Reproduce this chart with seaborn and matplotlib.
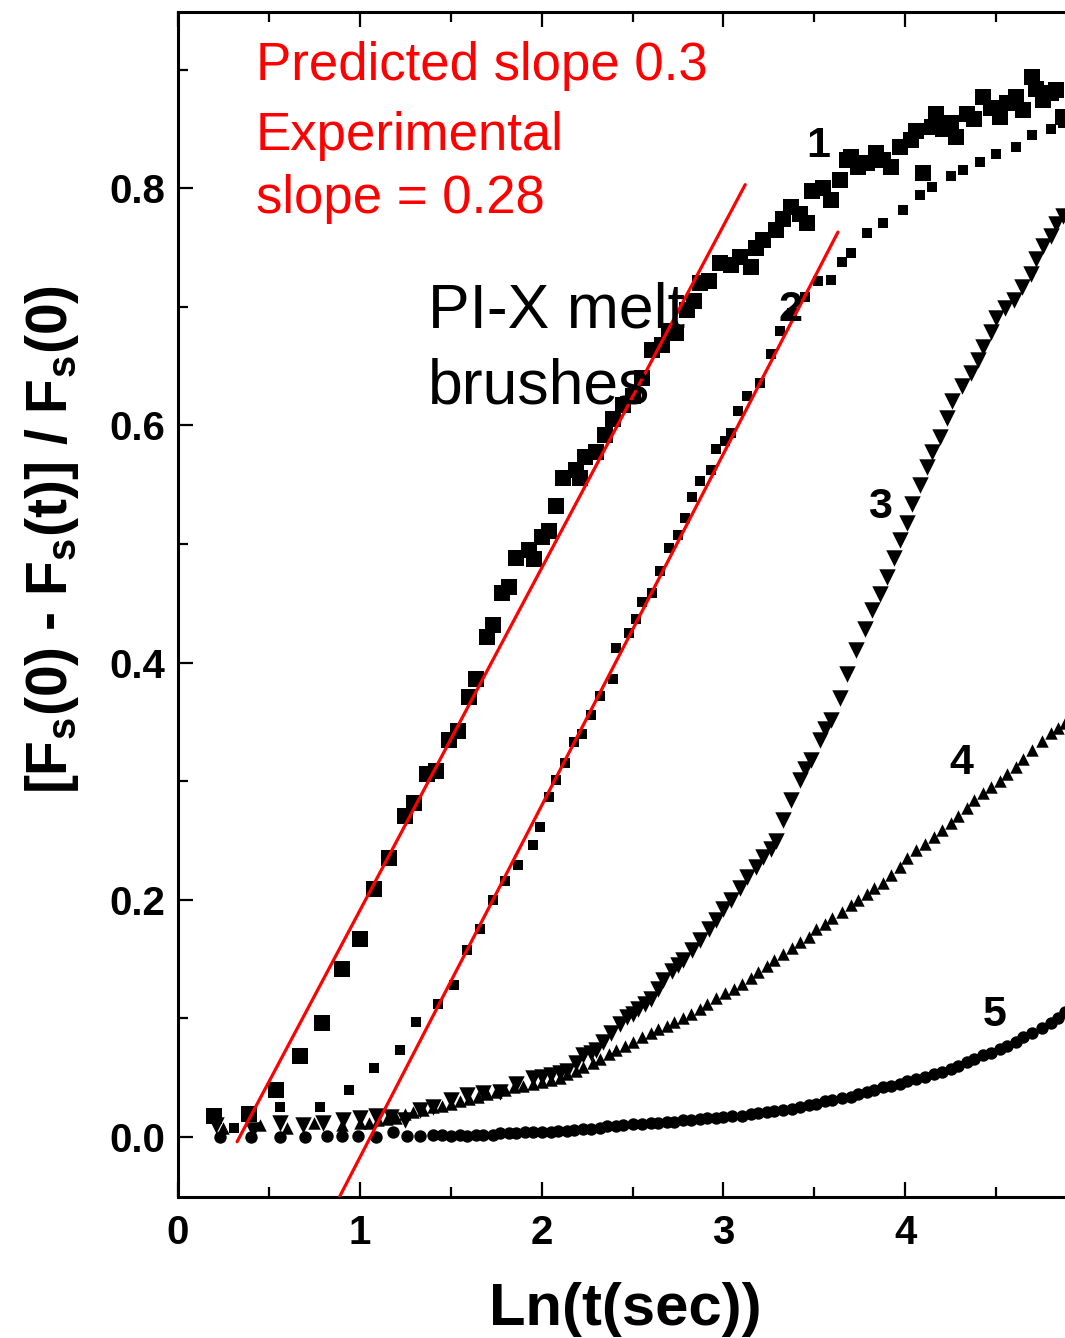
import numpy as np
import pandas as pd
import matplotlib
matplotlib.use('Agg')
import matplotlib.pyplot as plt
import seaborn as sns
from matplotlib.ticker import MultipleLocator

# curve 1 (large squares)
c1_x = [0.20, 0.39, 0.54, 0.67, 0.79, 0.90, 1.00, 1.08, 1.16, 1.25, 1.30, 1.37, 1.42, 1.49, 1.54,
        1.60, 1.64, 1.70, 1.73, 1.78, 1.82, 1.86, 1.93, 1.96, 2.00, 2.04, 2.08, 2.12, 2.19, 2.21,
        2.24, 2.30, 2.35, 2.39, 2.45, 2.50, 2.55, 2.61, 2.66, 2.70, 2.74, 2.80, 2.84, 2.87, 2.92,
        2.98, 3.04, 3.09, 3.15, 3.18, 3.22, 3.29, 3.33, 3.37, 3.42, 3.46, 3.49, 3.55, 3.59, 3.64,
        3.68, 3.70, 3.74, 3.79, 3.84, 3.88, 3.92, 3.97, 4.03, 4.06, 4.10, 4.15, 4.17, 4.21, 4.25,
        4.28, 4.34, 4.38, 4.43, 4.47, 4.52, 4.56, 4.61, 4.65, 4.70, 4.72, 4.76, 4.80, 4.83, 4.87]
c1_y = [0.018, 0.019, 0.040, 0.068, 0.096, 0.142, 0.167, 0.209, 0.235, 0.271, 0.282, 0.306, 0.309,
        0.335, 0.342, 0.371, 0.386, 0.422, 0.432, 0.459, 0.464, 0.488, 0.495, 0.487, 0.506, 0.511,
        0.532, 0.556, 0.562, 0.556, 0.573, 0.578, 0.592, 0.605, 0.617, 0.625, 0.640, 0.664, 0.668,
        0.680, 0.678, 0.697, 0.705, 0.720, 0.722, 0.737, 0.735, 0.742, 0.734, 0.750, 0.756, 0.765,
        0.774, 0.784, 0.778, 0.771, 0.798, 0.800, 0.790, 0.807, 0.824, 0.826, 0.818, 0.821, 0.830,
        0.824, 0.818, 0.835, 0.841, 0.848, 0.813, 0.852, 0.863, 0.850, 0.855, 0.843, 0.863, 0.858,
        0.877, 0.868, 0.860, 0.872, 0.877, 0.866, 0.894, 0.884, 0.874, 0.880, 0.883, 0.860]

# curve 2 (small squares)
c2_x = [0.31, 0.56, 0.78, 0.94, 1.08, 1.22, 1.31, 1.43, 1.52, 1.59, 1.66, 1.73, 1.80, 1.87, 1.95,
        1.99, 2.04, 2.08, 2.13, 2.18, 2.22, 2.27, 2.32, 2.39, 2.41, 2.48, 2.52, 2.55, 2.61, 2.65,
        2.70, 2.75, 2.79, 2.83, 2.87, 2.93, 2.96, 3.01, 3.04, 3.08, 3.13, 3.20, 3.26, 3.31, 3.38,
        3.45, 3.52, 3.59, 3.65, 3.70, 3.79, 3.88, 3.99, 4.08, 4.15, 4.25, 4.32, 4.41, 4.50, 4.61,
        4.70, 4.80, 4.87]
c2_y = [0.008, 0.025, 0.025, 0.040, 0.058, 0.073, 0.097, 0.112, 0.128, 0.158, 0.175, 0.200, 0.216,
        0.229, 0.246, 0.261, 0.287, 0.301, 0.315, 0.333, 0.340, 0.356, 0.372, 0.386, 0.412, 0.425,
        0.437, 0.451, 0.459, 0.477, 0.497, 0.508, 0.522, 0.540, 0.553, 0.562, 0.580, 0.587, 0.594,
        0.612, 0.625, 0.636, 0.660, 0.680, 0.695, 0.708, 0.722, 0.723, 0.738, 0.745, 0.762, 0.771,
        0.782, 0.794, 0.801, 0.810, 0.815, 0.822, 0.829, 0.835, 0.845, 0.850, 0.855]

# curve 3 (down triangles)
c3_x = [0.21, 0.41, 0.56, 0.69, 0.80, 0.91, 1.00, 1.09, 1.17, 1.25, 1.33, 1.40, 1.50, 1.59, 1.68,
        1.77, 1.86, 1.95, 2.00, 2.05, 2.10, 2.14, 2.19, 2.23, 2.27, 2.30, 2.34, 2.38, 2.43, 2.47,
        2.50, 2.53, 2.57, 2.60, 2.64, 2.67, 2.72, 2.75, 2.78, 2.83, 2.87, 2.92, 2.96, 3.00, 3.04,
        3.09, 3.13, 3.18, 3.22, 3.26, 3.29, 3.33, 3.37, 3.42, 3.45, 3.48, 3.53, 3.56, 3.59, 3.64,
        3.68, 3.73, 3.78, 3.82, 3.86, 3.90, 3.94, 3.97, 4.01, 4.04, 4.08, 4.12, 4.15, 4.19, 4.23,
        4.26, 4.31, 4.36, 4.40, 4.43, 4.47, 4.50, 4.55, 4.60, 4.64, 4.69, 4.72, 4.76, 4.80, 4.83,
        4.87]
c3_y = [0.010, 0.006, 0.012, 0.010, 0.012, 0.014, 0.016, 0.018, 0.017, 0.014, 0.023, 0.025, 0.031,
        0.035, 0.037, 0.038, 0.045, 0.050, 0.051, 0.052, 0.054, 0.056, 0.062, 0.069, 0.071, 0.073,
        0.080, 0.088, 0.095, 0.101, 0.104, 0.108, 0.112, 0.116, 0.125, 0.132, 0.140, 0.145, 0.149,
        0.158, 0.166, 0.175, 0.183, 0.192, 0.200, 0.210, 0.219, 0.228, 0.236, 0.243, 0.250, 0.267,
        0.284, 0.301, 0.310, 0.318, 0.335, 0.344, 0.352, 0.370, 0.390, 0.411, 0.428, 0.444, 0.458,
        0.472, 0.488, 0.503, 0.518, 0.534, 0.550, 0.565, 0.578, 0.590, 0.606, 0.621, 0.633, 0.644,
        0.655, 0.666, 0.679, 0.691, 0.699, 0.706, 0.717, 0.728, 0.740, 0.751, 0.760, 0.770, 0.777]

# curve 4 (up triangles)
c4_x = [0.25, 0.45, 0.60, 0.75, 0.90, 1.00, 1.05, 1.10, 1.15, 1.20, 1.25, 1.29, 1.35, 1.40, 1.45,
        1.50, 1.55, 1.60, 1.65, 1.70, 1.75, 1.80, 1.85, 1.90, 1.95, 2.00, 2.05, 2.10, 2.14, 2.19,
        2.23, 2.28, 2.32, 2.37, 2.41, 2.46, 2.50, 2.55, 2.60, 2.64, 2.69, 2.73, 2.78, 2.82, 2.87,
        2.91, 2.96, 3.01, 3.06, 3.10, 3.15, 3.19, 3.24, 3.28, 3.33, 3.38, 3.42, 3.47, 3.51, 3.56,
        3.60, 3.65, 3.70, 3.74, 3.79, 3.83, 3.88, 3.92, 3.97, 4.01, 4.06, 4.11, 4.16, 4.20, 4.25,
        4.29, 4.34, 4.38, 4.43, 4.47, 4.52, 4.56, 4.61, 4.65, 4.70, 4.75, 4.80, 4.84, 4.88]
c4_y = [0.008, 0.010, 0.008, 0.012, 0.010, 0.012, 0.012, 0.014, 0.015, 0.016, 0.019, 0.021, 0.023,
        0.025, 0.026, 0.028, 0.030, 0.032, 0.034, 0.036, 0.038, 0.040, 0.042, 0.043, 0.045, 0.046,
        0.048, 0.050, 0.053, 0.056, 0.059, 0.062, 0.066, 0.070, 0.073, 0.077, 0.080, 0.084, 0.088,
        0.091, 0.094, 0.097, 0.100, 0.104, 0.108, 0.112, 0.117, 0.121, 0.125, 0.129, 0.134, 0.139,
        0.144, 0.149, 0.154, 0.159, 0.164, 0.169, 0.175, 0.180, 0.185, 0.190, 0.196, 0.200, 0.205,
        0.210, 0.214, 0.221, 0.228, 0.235, 0.242, 0.247, 0.253, 0.259, 0.265, 0.271, 0.277, 0.284,
        0.290, 0.295, 0.300, 0.306, 0.312, 0.319, 0.326, 0.334, 0.341, 0.345, 0.349]

# curve 5 (circles)
c5_x = [0.23, 0.40, 0.56, 0.70, 0.82, 0.90, 0.99, 1.09, 1.18, 1.26, 1.33, 1.40, 1.45, 1.50, 1.55,
        1.59, 1.64, 1.68, 1.73, 1.77, 1.82, 1.86, 1.91, 1.95, 2.00, 2.05, 2.09, 2.14, 2.18, 2.23,
        2.27, 2.32, 2.36, 2.41, 2.45, 2.50, 2.55, 2.60, 2.64, 2.69, 2.73, 2.78, 2.82, 2.87, 2.91,
        2.96, 3.00, 3.05, 3.10, 3.15, 3.19, 3.24, 3.28, 3.33, 3.38, 3.42, 3.47, 3.51, 3.56, 3.60,
        3.65, 3.70, 3.74, 3.79, 3.83, 3.88, 3.92, 3.97, 4.01, 4.06, 4.11, 4.16, 4.20, 4.25, 4.29,
        4.34, 4.38, 4.43, 4.47, 4.52, 4.56, 4.61, 4.65, 4.70, 4.75, 4.80, 4.84, 4.88]
c5_y = [0.000, 0.000, 0.000, 0.000, 0.001, 0.001, 0.001, 0.000, 0.004, 0.001, 0.001, 0.002, 0.002,
        0.001, 0.002, 0.001, 0.002, 0.002, 0.002, 0.003, 0.003, 0.003, 0.004, 0.004, 0.004, 0.004,
        0.005, 0.005, 0.006, 0.007, 0.007, 0.008, 0.009, 0.009, 0.010, 0.011, 0.011, 0.012, 0.012,
        0.013, 0.013, 0.014, 0.014, 0.015, 0.016, 0.016, 0.017, 0.018, 0.018, 0.019, 0.020, 0.021,
        0.022, 0.023, 0.024, 0.025, 0.027, 0.028, 0.030, 0.031, 0.033, 0.034, 0.036, 0.038, 0.040,
        0.042, 0.043, 0.045, 0.047, 0.049, 0.051, 0.053, 0.055, 0.057, 0.060, 0.063, 0.066, 0.069,
        0.071, 0.074, 0.077, 0.080, 0.084, 0.088, 0.092, 0.096, 0.100, 0.105]

# red fit lines (end points)
fit1_x = [0.325, 3.12]
fit1_y = [-0.004, 0.803]
fit2_x = [0.89, 3.63]
fit2_y = [-0.05, 0.763]

curve_labels = ['1', '2', '3', '4', '5']
label_x = [3.52, 3.37, 3.86, 4.31, 4.49]
label_y = [0.836, 0.697, 0.531, 0.315, 0.103]

sns.set_theme(style='ticks')
plt.rcParams['font.family'] = ['Liberation Sans', 'DejaVu Sans']
plt.rcParams['mathtext.fontset'] = 'custom'
plt.rcParams['mathtext.rm'] = 'Liberation Sans:bold'
plt.rcParams['mathtext.bf'] = 'Liberation Sans:bold'

W, H = 1065, 1338
fig = plt.figure(figsize=(W / 100, H / 100), dpi=100)
fig.patch.set_facecolor('white')
ax = fig.add_axes([178 / W, 141 / H, 5.0 * 181.8 / W, 1185 / H])
ax.set_facecolor('white')

curves = [
    (c1_x, c1_y, 's', 125),
    (c2_x, c2_y, 's', 50),
    (c3_x, c3_y, 'v', 140),
    (c4_x, c4_y, '^', 80),
    (c5_x, c5_y, 'o', 80),
]
for xs, ys, mk, size in curves:
    df = pd.DataFrame({'x': xs, 'y': ys})
    sns.scatterplot(data=df, x='x', y='y', marker=mk, s=size, color='black',
                    linewidth=0, ax=ax, legend=False, zorder=3)

sns.lineplot(x=fit1_x, y=fit1_y, color='#ff0000', linewidth=2.3, ax=ax, zorder=4)
sns.lineplot(x=fit2_x, y=fit2_y, color='#ff0000', linewidth=2.3, ax=ax, zorder=4)

ax.set_xlim(0, 5.0)
ax.set_ylim(-0.0506, 0.9486)

ax.xaxis.set_minor_locator(MultipleLocator(0.5))
ax.yaxis.set_minor_locator(MultipleLocator(0.1))
ax.set_xticks([0, 1, 2, 3, 4])
ax.set_yticks([0.0, 0.2, 0.4, 0.6, 0.8])
ax.set_xticklabels(['0', '1', '2', '3', '4'])
ax.set_yticklabels(['0.0', '0.2', '0.4', '0.6', '0.8'])

ax.tick_params(axis='both', which='major', direction='in', length=11, width=1.6,
               labelsize=29, color='black', top=True, right=False)
ax.tick_params(axis='both', which='minor', direction='in', length=7, width=1.6,
               color='black', top=True, right=False)
ax.tick_params(axis='x', which='major', pad=12)
ax.tick_params(axis='y', which='major', pad=9)
for lab in ax.get_xticklabels() + ax.get_yticklabels():
    lab.set_fontweight('bold')
    lab.set_color('black')

for side in ['left', 'bottom', 'top']:
    ax.spines[side].set_linewidth(2.2)
    ax.spines[side].set_color('black')
ax.spines['right'].set_visible(False)

ax.set_xlabel('')
ax.set_ylabel('')

fig.text(625 / W, 1 - 1325 / H, 'Ln(t(sec))', fontsize=43, fontweight='bold',
         ha='center', va='baseline', color='black')
fig.text(52 / W, 1 - 540 / H, r'[F$_{\rm s}$(0) - F$_{\rm s}$(t)] / F$_{\rm s}$(0)',
         fontsize=41, fontweight='bold', rotation=90, ha='center', va='center', color='black')

red_lines = ['Predicted slope 0.3', 'Experimental', 'slope = 0.28']
red_base = [80, 150, 213]
for txt, py in zip(red_lines, red_base):
    fig.text(256 / W, 1 - py / H, txt, fontsize=38, color='#ff0000', ha='left', va='baseline')

fig.text(428 / W, 1 - 328 / H, 'PI-X melt', fontsize=45, color='black', ha='left', va='baseline')
fig.text(428 / W, 1 - 403 / H, 'brushes', fontsize=45, color='black', ha='left', va='baseline')

for lab, lx, ly in zip(curve_labels, label_x, label_y):
    ax.text(lx, ly, lab, fontsize=31, fontweight='bold', ha='center', va='center',
            color='black', zorder=5)

fig.savefig('out.png', dpi=100, facecolor='white')
